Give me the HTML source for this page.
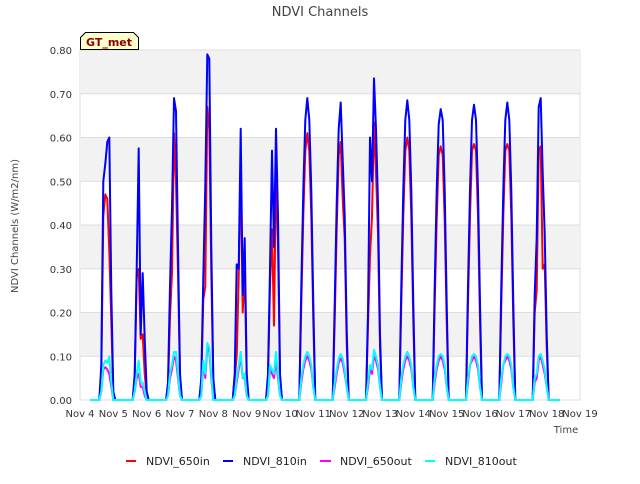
<!DOCTYPE html>
<html><head><meta charset="utf-8"><style>
body{margin:0;background:#fff;width:640px;height:480px;overflow:hidden;font-family:"DejaVu Sans","Liberation Sans",sans-serif}
svg text{font-family:"DejaVu Sans","Liberation Sans",sans-serif}
</style></head><body>
<svg id="chart" width="640" height="480">
<text x="320" y="16" text-anchor="middle" font-size="13" fill="#444">NDVI Channels</text>
<g id="bands"></g><g id="grid"></g><g id="series"></g><g id="axes"></g>
<text transform="translate(18,226) rotate(-90)" text-anchor="middle" font-size="10" fill="#444">NDVI Channels (W/m2/nm)</text>
<text x="566" y="433" text-anchor="middle" font-size="10" fill="#444">Time</text>
<g>
<path d="M80.5,49.5 V37.5 L85.5,32.5 H133.5 L138.5,37.5 V49.5 Z" fill="#ffffcc" stroke="#000"/>
<text x="109" y="46" text-anchor="middle" font-size="11" font-weight="bold" fill="#8b0000">GT_met</text>
</g>
<g>
<g><line x1="126" y1="461" x2="136" y2="461" stroke="#f00" stroke-width="2"/><text x="146" y="465" font-size="11" fill="#222">NDVI_650in</text></g>
<g><line x1="223" y1="461" x2="233" y2="461" stroke="#00f" stroke-width="2"/><text x="243" y="465" font-size="11" fill="#222">NDVI_810in</text></g>
<g><line x1="320" y1="461" x2="331" y2="461" stroke="#f0f" stroke-width="2"/><text x="340" y="465" font-size="11" fill="#222">NDVI_650out</text></g>
<g><line x1="425" y1="461" x2="435" y2="461" stroke="#0ff" stroke-width="2"/><text x="445" y="465" font-size="11" fill="#222">NDVI_810out</text></g>
</g>
</svg>
<script>
const xTickLabels=["Nov 4","Nov 5","Nov 6","Nov 7","Nov 8","Nov 9","Nov 10","Nov 11","Nov 12","Nov 13","Nov 14","Nov 15","Nov 16","Nov 17","Nov 18","Nov 19"];
const yTicks=[0,0.1,0.2,0.3,0.4,0.5,0.6,0.7,0.8];
const hourOffsets=[0.58,0.64,0.70,0.76,0.82,0.88,0.94,1.00,1.06];
const ndvi810in=[
[0,0.08,0.50,0.54,0.59,0.60,0.25,0.02,0],
[0,0.06,0.30,0.575,0.15,0.29,0.14,0.02,0],
[0,0.04,0.26,0.44,0.69,0.66,0.35,0.06,0],
[0,0.05,0.28,0.49,0.79,0.78,0.35,0.05,0],
[0,0.06,0.31,0.30,0.62,0.24,0.37,0.06,0],
[0,0.06,0.30,0.57,0.35,0.62,0.42,0.06,0],
[0,0.26,0.48,0.64,0.69,0.64,0.48,0.22,0],
[0,0.22,0.45,0.62,0.68,0.55,0.42,0.16,0],
[0,0.20,0.60,0.50,0.735,0.62,0.45,0.15,0],
[0,0.26,0.48,0.64,0.685,0.64,0.48,0.22,0],
[0,0.26,0.48,0.63,0.665,0.64,0.48,0.22,0],
[0,0.26,0.48,0.64,0.675,0.64,0.48,0.22,0],
[0,0.26,0.48,0.64,0.68,0.64,0.48,0.22,0],
[0,0.24,0.37,0.67,0.69,0.52,0.38,0.15,0]];
const ndvi650in=[
[0,0.06,0.42,0.47,0.46,0.34,0.18,0.01,0],
[0,0.05,0.28,0.30,0.14,0.15,0.06,0.01,0],
[0,0.03,0.19,0.29,0.61,0.50,0.29,0.05,0],
[0,0.04,0.23,0.26,0.67,0.62,0.29,0.04,0],
[0,0.05,0.10,0.28,0.55,0.20,0.30,0.05,0],
[0,0.05,0.26,0.39,0.17,0.53,0.35,0.05,0],
[0,0.22,0.42,0.57,0.61,0.57,0.42,0.18,0],
[0,0.18,0.39,0.56,0.59,0.46,0.37,0.13,0],
[0,0.17,0.33,0.42,0.635,0.52,0.38,0.12,0],
[0,0.22,0.42,0.57,0.60,0.57,0.42,0.18,0],
[0,0.22,0.41,0.56,0.58,0.56,0.41,0.18,0],
[0,0.22,0.42,0.57,0.585,0.57,0.42,0.18,0],
[0,0.22,0.42,0.57,0.585,0.57,0.42,0.18,0],
[0,0.20,0.25,0.57,0.58,0.30,0.31,0.12,0]];
const ndvi650out=[
[0,0.02,0.07,0.075,0.07,0.06,0.03,0,0],
[0,0.02,0.05,0.06,0.03,0.03,0.01,0,0],
[0,0.01,0.05,0.07,0.10,0.09,0.05,0.01,0],
[0,0.01,0.08,0.05,0.12,0.11,0.05,0,0],
[0,0.01,0.04,0.07,0.10,0.05,0.05,0.01,0],
[0,0.01,0.07,0.06,0.05,0.09,0.05,0.01,0],
[0,0.04,0.07,0.09,0.10,0.09,0.07,0.03,0],
[0,0.03,0.06,0.085,0.095,0.085,0.06,0.03,0],
[0,0.03,0.07,0.06,0.10,0.09,0.07,0.03,0],
[0,0.04,0.07,0.09,0.10,0.09,0.07,0.03,0],
[0,0.04,0.07,0.09,0.10,0.09,0.07,0.03,0],
[0,0.04,0.08,0.09,0.10,0.09,0.07,0.03,0],
[0,0.04,0.08,0.09,0.10,0.09,0.07,0.03,0],
[0,0.04,0.05,0.09,0.10,0.08,0.06,0.03,0]];
const ndvi810out=[
[0,0.02,0.08,0.09,0.085,0.10,0.04,0,0],
[0,0.02,0.06,0.09,0.04,0.04,0.02,0,0],
[0,0.01,0.06,0.08,0.11,0.11,0.06,0.01,0],
[0,0.01,0.09,0.06,0.13,0.12,0.06,0,0],
[0,0.01,0.05,0.08,0.11,0.05,0.06,0.01,0],
[0,0.01,0.08,0.07,0.06,0.11,0.06,0.01,0],
[0,0.05,0.08,0.10,0.11,0.10,0.08,0.03,0],
[0,0.04,0.07,0.095,0.105,0.095,0.07,0.03,0],
[0,0.04,0.08,0.07,0.115,0.10,0.08,0.03,0],
[0,0.05,0.08,0.10,0.11,0.10,0.08,0.03,0],
[0,0.05,0.08,0.10,0.105,0.10,0.08,0.03,0],
[0,0.05,0.08,0.10,0.105,0.10,0.08,0.03,0],
[0,0.05,0.08,0.10,0.105,0.10,0.08,0.03,0],
[0,0.05,0.06,0.10,0.105,0.09,0.07,0.03,0]];
const L=80,R=580,T=50,B=400,ymax=0.8,ndays=15;
const X=d=>L+(R-L)*d/ndays;
const Y=v=>B-(B-T)*v/ymax;
const NS="http://www.w3.org/2000/svg";
function mk(tag,parent,attrs){const e=document.createElementNS(NS,tag);for(const k in attrs)e.setAttribute(k,attrs[k]);parent.appendChild(e);return e;}
const bands=document.getElementById('bands'),grid=document.getElementById('grid'),axes=document.getElementById('axes'),series=document.getElementById('series');
mk('rect',bands,{x:L,y:T,width:R-L,height:B-T,fill:'#fff',stroke:'#ddd'});
for(let i=0;i<yTicks.length-1;i++){
  if(i%2===1){const r=mk('rect',bands,{x:L,y:Y(yTicks[i+1]),width:R-L,height:Y(yTicks[i])-Y(yTicks[i+1]),fill:'#f2f2f2'});
  
  }
}
yTicks.forEach(v=>{
  const g=mk('line',grid,{x1:L,x2:R,y1:Y(v),y2:Y(v),stroke:'#ddd'});
  
  
  const t=mk('text',axes,{x:L-8,y:Y(v)+4,'text-anchor':'end','font-size':'10',fill:'#333'});
  t.textContent=v.toFixed(2);
  
  
});
xTickLabels.forEach((s,i)=>{
  const t=mk('text',axes,{x:X(i),y:B+17,'text-anchor':'middle','font-size':'10',fill:'#333'});
  t.textContent=s;
  
  
});
function draw(data,color,name){
  const pts=[[X(0.3),Y(0)]];
  data.forEach((day,d)=>day.forEach((v,j)=>pts.push([X(d+hourOffsets[j]),Y(v)])));
  pts.push([X(14.4),Y(0)]);
  const p=mk('polyline',series,{points:pts.map(p=>p[0].toFixed(1)+','+p[1].toFixed(1)).join(' '),fill:'none',stroke:color,'stroke-width':'2','stroke-linejoin':'round'});
  
  
}
draw(ndvi650in,'#f00','series-ndvi-650in');
draw(ndvi810in,'#00f','series-ndvi-810in');
draw(ndvi650out,'#f0f','series-ndvi-650out');
draw(ndvi810out,'#0ff','series-ndvi-810out');
</script>
</body></html>
